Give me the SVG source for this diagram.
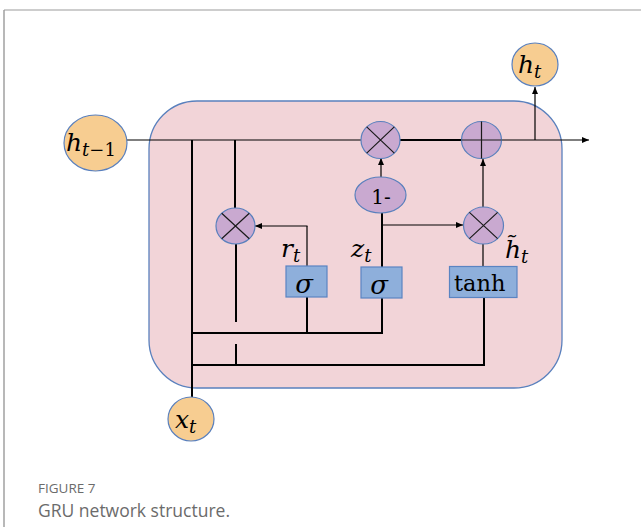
<svg xmlns="http://www.w3.org/2000/svg" width="641" height="527" viewBox="0 0 641 527">
<style>
.ln{stroke:#000;stroke-width:2;fill:none}
.th{stroke:#000;stroke-width:1.2;fill:none}
.io{fill:#f7cd91;stroke:#5a80bd;stroke-width:1.2}
.op{fill:#c9a9d0;stroke:#5a80bd;stroke-width:1.2}
.bx{fill:#8eafdb;stroke:#5a84c2;stroke-width:1.2}
.x{stroke:#1a1a1a;stroke-width:1.2}
.m{font-family:"DejaVu Serif","Liberation Serif",serif;font-style:italic;fill:#000}
.u{font-family:"DejaVu Serif","Liberation Serif",serif;fill:#000}
.cap{font-family:"Open Sans","Noto Sans",sans-serif}
</style>
<defs>
<marker id="ah" markerUnits="userSpaceOnUse" markerWidth="8" markerHeight="8" viewBox="0 0 8 8" refX="7" refY="4" orient="auto">
<path d="M0,1 L7,4 L0,7 Z" fill="#000"/>
</marker>
</defs>
<rect width="641" height="527" fill="#fff"/>
<g id="frame">
<line x1="4" y1="10" x2="641" y2="10" stroke="#bdbdbd" stroke-width="1.6"/>
<line x1="4" y1="10" x2="4" y2="527" stroke="#9a9a9a" stroke-width="1.4"/>
</g>
<g id="cell">
<rect x="149" y="101" width="413" height="287" rx="48" ry="48" fill="#f2d4d8" stroke="#5a80bd" stroke-width="1.3"/>
</g>
<g id="connectors">
<line class="th" x1="127" y1="140" x2="361" y2="140" stroke-width="1.6"/>
<line class="ln" x1="400" y1="140" x2="462" y2="140" stroke-width="2.6"/>
<line class="th" x1="501" y1="140" x2="589" y2="140" marker-end="url(#ah)"/>
<line class="th" x1="535" y1="140" x2="535" y2="87" stroke="#333" stroke-width="1.5" marker-end="url(#ah)"/>
<line class="ln" x1="192" y1="140" x2="192" y2="397"/>
<line class="ln" x1="235" y1="140" x2="235" y2="208"/>
<line class="ln" x1="236" y1="244" x2="236" y2="322"/>
<line class="ln" x1="236" y1="344" x2="236" y2="365"/>
<line class="ln" x1="191" y1="333" x2="382" y2="333"/>
<line class="ln" x1="191" y1="365" x2="484" y2="365"/>
<line class="ln" x1="307" y1="297" x2="307" y2="333"/>
<line class="ln" x1="382" y1="298" x2="382" y2="334"/>
<line class="ln" x1="484" y1="298" x2="484" y2="366"/>
<line class="th" x1="307" y1="266" x2="307" y2="226"/>
<line class="th" x1="307.5" y1="226" x2="255" y2="226" marker-end="url(#ah)"/>
<line class="ln" x1="382" y1="267" x2="382" y2="213"/>
<line class="th" x1="381" y1="225" x2="463" y2="225" marker-end="url(#ah)"/>
<line class="th" x1="381" y1="177" x2="381" y2="158" marker-end="url(#ah)"/>
<line class="th" x1="483" y1="207" x2="483" y2="159" marker-end="url(#ah)"/>
<line class="th" x1="483" y1="266" x2="483" y2="244"/>
</g>
<g id="h_prev">
<ellipse class="io" cx="95.5" cy="143" rx="31.5" ry="28"/>
<text class="m" x="66" y="151" font-size="25">h<tspan font-size="18" dy="5">t</tspan><tspan font-size="18" font-style="normal">−1</tspan></text>
</g>
<g id="h_t">
<ellipse class="io" cx="535" cy="64.5" rx="23" ry="21.5"/>
<text class="m" x="518" y="73" font-size="25">h<tspan font-size="18" dy="5">t</tspan></text>
</g>
<g id="x_t">
<ellipse class="io" cx="191" cy="419" rx="23" ry="22"/>
<text class="m" x="175" y="428" font-size="25">x<tspan font-size="18" dy="5">t</tspan></text>
</g>
<g id="mul1">
<ellipse class="op" cx="380.5" cy="140" rx="19.5" ry="18.5"/>
<path class="x" d="M366.7,126.9 L394.3,153.1 M394.3,126.9 L366.7,153.1"/>
</g>
<g id="add">
<ellipse class="op" cx="481.5" cy="140" rx="20" ry="18.5"/>
<path class="x" d="M461.5,140 L501.5,140 M481.5,121.5 L481.5,158.5"/>
</g>
<g id="one_minus">
<ellipse class="op" cx="380.5" cy="195" rx="25.5" ry="18"/>
<text class="u" x="381" y="203.5" font-size="20" text-anchor="middle">1-</text>
</g>
<g id="mul_r">
<ellipse class="op" cx="235.5" cy="226" rx="19.5" ry="18"/>
<path class="x" d="M221.7,213.3 L249.3,238.7 M249.3,213.3 L221.7,238.7"/>
</g>
<g id="mul_z">
<ellipse class="op" cx="483.5" cy="225.5" rx="20" ry="18.5"/>
<path class="x" d="M469.4,212.4 L497.6,238.6 M497.6,212.4 L469.4,238.6"/>
</g>
<g id="sigma_r">
<rect class="bx" x="286" y="266" width="41" height="31"/>
<text class="m" x="304" y="293" font-size="26" text-anchor="middle">σ</text>
<text class="m" x="281" y="257" font-size="25">r<tspan font-size="18" dy="5">t</tspan></text>
</g>
<g id="sigma_z">
<rect class="bx" x="361" y="267" width="41" height="31"/>
<text class="m" x="379" y="294" font-size="26" text-anchor="middle">σ</text>
<text class="m" x="351" y="257" font-size="25">z<tspan font-size="18" dy="5">t</tspan></text>
</g>
<g id="tanh">
<rect class="bx" x="449.5" y="266.5" width="67.5" height="31"/>
<text class="u" x="454" y="291" font-size="22.5">tanh</text>
<text class="m" x="505" y="258" font-size="25">h̃<tspan font-size="18" dy="5">t</tspan></text>
</g>
<g id="caption">
<text class="cap" x="38" y="493" font-size="13.5" fill="#6b6b6b">FIGURE 7</text>
<text class="cap" x="38" y="517" font-size="17.5" fill="#6b6b6b">GRU network structure.</text>
</g>
</svg>
